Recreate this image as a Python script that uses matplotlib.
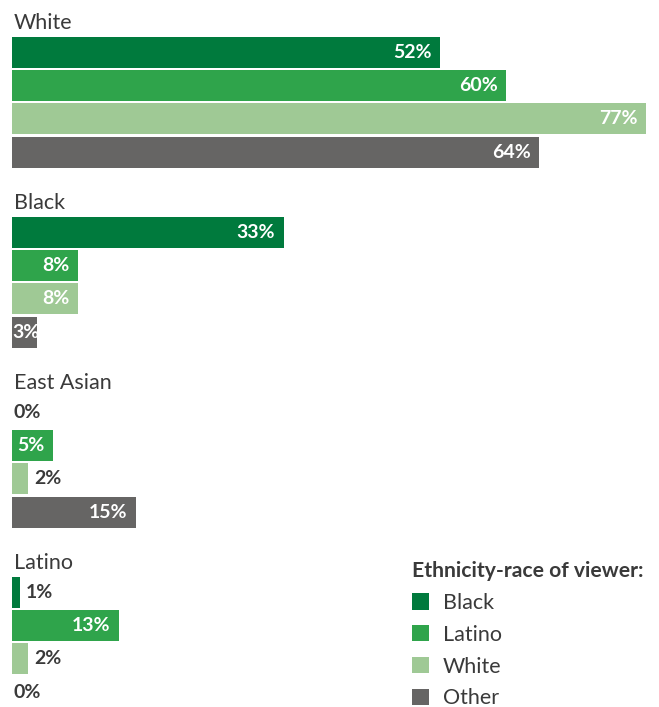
import matplotlib
matplotlib.use('Agg')
import matplotlib.pyplot as plt
from matplotlib.patches import Patch

plt.rcParams['font.family'] = ['Lato', 'DejaVu Sans']

# Data: share of viewers' favourite characters by character ethnicity-race
groups = ['White', 'Black', 'East Asian', 'Latino']
viewers = ['Black', 'Latino', 'White', 'Other']
values = [
    [52, 60, 77, 64],   # White characters
    [33, 8, 8, 3],      # Black characters
    [0, 5, 2, 15],      # East Asian characters
    [1, 13, 2, 0],      # Latino characters
]
colors = ['#007a3d', '#2fa44b', '#9fc995', '#666564']
text_dark = '#3a3a3a'

W, H = 659, 707
fig = plt.figure(figsize=(W / 100, H / 100), dpi=100, facecolor='white')
# axes x: 0..77 maps to px 12..646 ; y in pixel units (top = 0)
ax = fig.add_axes([12 / W, 0, 634 / W, 1])
ax.set_xlim(0, 77)
ax.set_ylim(H, 0)
ax.axis('off')

first_center = 52.5
group_step = 180
bar_step = 33.2
bar_h = 31
px_per_unit = 634 / 77
val_fs = 14

for g, grp in enumerate(groups):
    y0 = first_center + g * group_step
    ax.text(0.2, y0 - 23.5, grp, fontsize=15.5, color=text_dark,
            ha='left', va='baseline')
    for i, v in enumerate(values[g]):
        y = y0 + i * bar_step
        ax.barh(y, v, height=bar_h, color=colors[i], left=0)
        label = f'{v}%'
        if v >= 5:
            ax.text(v - 8.5 / px_per_unit, y, label, ha='right', va='center',
                    fontsize=val_fs, fontweight='bold', color='white')
        elif v >= 3:
            ax.text(0, y, label, ha='left', va='center',
                    fontsize=val_fs, fontweight='bold', color='white')
        else:
            off = 2 if v == 0 else 6
            ax.text(v + off / px_per_unit, y, label, ha='left', va='center',
                    fontsize=val_fs, fontweight='bold', color=text_dark)

handles = [Patch(facecolor=c, edgecolor='none') for c in colors]
leg = ax.legend(handles, viewers, title='Ethnicity-race of viewer:',
                loc='upper left', bbox_to_anchor=(412 / W, 1 - 561 / H),
                bbox_transform=fig.transFigure, frameon=False,
                fontsize=15.5, title_fontproperties={'weight': 'bold', 'size': 15.2},
                alignment='left', borderpad=0, borderaxespad=0,
                handlelength=0.8, handleheight=0.8, handletextpad=0.62,
                labelspacing=0.55)
for t in leg.get_texts():
    t.set_color(text_dark)
leg.get_title().set_color(text_dark)

fig.savefig('out.png', dpi=100, facecolor='white')
plt.close(fig)
